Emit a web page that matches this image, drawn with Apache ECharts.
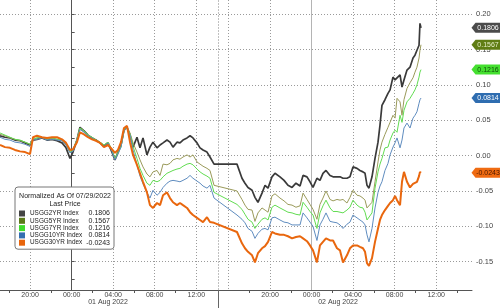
<!DOCTYPE html>
<html><head><meta charset="utf-8">
<script src="https://cdn.jsdelivr.net/npm/echarts@6/dist/echarts.min.js"></script>
<style>html,body{margin:0;padding:0;background:#fff}#c{width:500px;height:308px}</style>
</head><body><div id="c"></div>
<script>
// ---------- data ----------
const seriesNames = ['USGG2YR Index','USGG5YR Index','USGG7YR Index','USGG10YR Index','USGG30YR Index'];
const lastPrices = [0.1806, 0.1567, 0.1216, 0.0814, -0.0243];
const legendTitle = ['Normalized As Of 07/29/2022', 'Last Price'];
// hours relative to 01 Aug 2022 00:00
const times = [
-6.90,-6.42,-5.94,-5.46,-4.97,-4.49,-4.01,-3.72,-3.34,-2.86,
-2.37,-1.89,-1.41,-0.93,-0.54,-0.16,0.13,0.51,0.80,1.19,
1.57,1.96,2.34,2.73,3.11,3.50,3.88,4.17,4.46,4.75,
5.04,5.33,5.62,5.91,6.29,6.58,6.87,7.25,7.54,7.83,
8.22,8.51,8.80,9.18,9.47,9.76,10.14,10.43,10.72,11.11,
11.40,11.68,12.07,12.36,12.65,13.03,13.32,13.71,16.82,17.30,
17.59,17.88,18.27,18.55,18.84,19.23,19.52,19.81,20.19,20.48,
20.96,21.35,21.73,22.12,22.50,22.89,23.18,23.56,23.85,24.14,
24.52,24.81,25.10,25.39,25.78,26.07,26.45,26.74,27.03,27.41,
27.70,27.99,28.38,28.66,28.95,29.15,29.34,29.53,29.82,30.11,
30.40,30.59,30.78,31.07,31.36,31.56,31.84,32.04,32.23,32.52,
32.71,32.90,33.19,33.48,33.77,33.96,34.15,34.35,34.44,34.54];
const usgg2yr = [
0.028,0.026,0.025,0.022,0.021,0.018,0.015,0.022,0.023,0.025,
0.022,0.023,0.021,0.018,0.011,-0.004,0.005,0.022,0.040,0.035,
0.029,0.025,0.022,0.018,0.013,0.018,0.005,-0.006,0.005,0.015,
0.036,0.040,0.029,0.012,0.026,0.011,0.025,0.001,0.012,0.019,
0.011,0.015,0.018,0.022,0.019,0.012,0.019,0.018,0.022,0.025,
0.028,0.025,0.018,0.011,0.008,0.005,-0.002,-0.012,-0.012,-0.032,
-0.039,-0.045,-0.049,-0.059,-0.066,-0.053,-0.042,-0.046,-0.030,-0.025,
-0.030,-0.035,-0.042,-0.045,-0.039,-0.043,-0.028,-0.030,-0.037,-0.045,
-0.032,-0.035,-0.025,-0.021,-0.028,-0.030,-0.030,-0.030,-0.032,-0.032,
-0.030,-0.016,-0.018,-0.021,-0.023,-0.025,-0.042,-0.046,-0.030,-0.004,
0.019,0.043,0.071,0.079,0.088,0.093,0.111,0.107,0.110,0.114,
0.097,0.107,0.121,0.125,0.138,0.142,0.149,0.156,0.187,0.1806];
const usgg5yr = [
0.030,0.028,0.025,0.023,0.021,0.019,0.016,0.023,0.025,0.026,
0.023,0.025,0.023,0.022,0.015,0.004,0.008,0.023,0.039,0.035,
0.029,0.026,0.022,0.019,0.015,0.019,0.008,-0.004,0.005,0.013,
0.036,0.040,0.032,0.018,0.005,-0.006,-0.016,-0.026,-0.030,-0.023,
-0.021,-0.028,-0.012,-0.013,-0.011,-0.006,-0.004,-0.005,-0.002,0.001,
-0.002,0.001,-0.009,-0.012,-0.015,-0.018,-0.021,-0.042,-0.050,-0.062,
-0.070,-0.076,-0.077,-0.093,-0.081,-0.074,-0.077,-0.080,-0.057,-0.054,
-0.060,-0.064,-0.069,-0.070,-0.073,-0.071,-0.053,-0.062,-0.069,-0.076,
-0.090,-0.069,-0.060,-0.050,-0.062,-0.064,-0.062,-0.063,-0.062,-0.067,
-0.059,-0.049,-0.056,-0.057,-0.060,-0.063,-0.074,-0.074,-0.066,-0.037,
-0.009,0.008,0.019,0.030,0.040,0.047,0.057,0.053,0.081,0.076,
0.057,0.079,0.095,0.103,0.110,0.118,0.125,0.138,0.149,0.1567];
const usgg7yr = [
0.032,0.029,0.026,0.023,0.022,0.019,0.016,0.023,0.025,0.026,
0.023,0.025,0.023,0.022,0.016,0.005,0.008,0.023,0.039,0.035,
0.029,0.026,0.022,0.019,0.015,0.019,0.008,-0.004,0.004,0.012,
0.035,0.040,0.030,0.013,-0.004,-0.018,-0.028,-0.039,-0.042,-0.035,
-0.037,-0.035,-0.030,-0.025,-0.023,-0.021,-0.019,-0.018,-0.015,-0.012,
-0.011,-0.013,-0.019,-0.023,-0.026,-0.029,-0.032,-0.052,-0.069,-0.076,
-0.083,-0.090,-0.094,-0.103,-0.097,-0.090,-0.088,-0.091,-0.073,-0.070,
-0.074,-0.077,-0.080,-0.081,-0.083,-0.084,-0.066,-0.073,-0.079,-0.084,
-0.103,-0.081,-0.071,-0.063,-0.074,-0.079,-0.079,-0.080,-0.081,-0.077,
-0.073,-0.063,-0.070,-0.073,-0.074,-0.080,-0.091,-0.090,-0.081,-0.046,
-0.023,-0.012,-0.004,0.011,0.012,0.022,0.032,0.036,0.033,0.057,
0.047,0.064,0.076,0.081,0.088,0.093,0.100,0.111,0.118,0.1216];
const usgg10yr = [
0.026,0.023,0.022,0.019,0.018,0.016,0.013,0.022,0.023,0.025,
0.022,0.023,0.022,0.021,0.015,0.004,0.006,0.022,0.037,0.033,
0.028,0.025,0.021,0.018,0.013,0.018,0.006,-0.006,0.002,0.012,
0.035,0.039,0.029,0.008,-0.013,-0.029,-0.040,-0.052,-0.060,-0.049,
-0.056,-0.052,-0.045,-0.039,-0.036,-0.035,-0.036,-0.037,-0.035,-0.032,
-0.028,-0.032,-0.036,-0.039,-0.043,-0.046,-0.042,-0.060,-0.084,-0.090,
-0.095,-0.103,-0.107,-0.117,-0.110,-0.104,-0.103,-0.105,-0.088,-0.087,
-0.091,-0.094,-0.095,-0.098,-0.098,-0.098,-0.081,-0.088,-0.094,-0.100,
-0.120,-0.098,-0.090,-0.081,-0.093,-0.094,-0.095,-0.098,-0.103,-0.097,
-0.094,-0.084,-0.088,-0.091,-0.094,-0.098,-0.112,-0.122,-0.103,-0.074,
-0.052,-0.043,-0.037,-0.021,-0.011,0.001,0.012,0.018,0.025,0.011,
0.022,0.039,0.046,0.039,0.053,0.057,0.062,0.074,0.079,0.0814];
const usgg30yr = [
0.015,0.012,0.011,0.008,0.006,0.005,0.002,0.026,0.028,0.026,
0.025,0.026,0.026,0.023,0.018,0.008,0.009,0.019,0.033,0.030,
0.026,0.023,0.021,0.018,0.012,0.015,0.009,0.004,0.008,0.019,
0.039,0.042,0.019,0.001,-0.013,-0.025,-0.037,-0.052,-0.070,-0.074,
-0.067,-0.070,-0.056,-0.052,-0.060,-0.066,-0.070,-0.067,-0.070,-0.074,
-0.080,-0.084,-0.088,-0.091,-0.094,-0.087,-0.094,-0.095,-0.108,-0.124,
-0.131,-0.136,-0.141,-0.151,-0.138,-0.131,-0.128,-0.122,-0.108,-0.110,
-0.112,-0.112,-0.114,-0.117,-0.115,-0.114,-0.117,-0.121,-0.127,-0.134,
-0.151,-0.127,-0.122,-0.117,-0.120,-0.120,-0.131,-0.134,-0.151,-0.141,
-0.131,-0.127,-0.127,-0.129,-0.131,-0.136,-0.152,-0.156,-0.145,-0.122,
-0.103,-0.091,-0.084,-0.077,-0.071,-0.067,-0.063,-0.057,-0.063,-0.070,
-0.037,-0.023,-0.037,-0.045,-0.040,-0.039,-0.037,-0.029,-0.023,-0.0243];
const yLabelValues = [-0.15,-0.10,-0.05,0.00,0.05,0.10,0.15,0.20];
const yTickValues = [-0.175,-0.15,-0.125,-0.10,-0.075,-0.05,-0.025,0,0.025,0.05,0.075,0.10,0.125,0.15,0.175,0.20];
const xLabelTimes = [-4,0,4,8,12,20,24,28,32,36];
const xLabelTexts = ['20:00','00:00','04:00','08:00','12:00','20:00','00:00','04:00','08:00','12:00'];
const xGridTimes = [-4,4,8,12,16,20,28,32,36];
const xMinorTickTimes = [-6,-2,2,6,10,18,22,26,30,34,38];
const midnightTimes = [0,24];
const dateLabels = ['01 Aug 2022','02 Aug 2022'];
const dateLabelTimes = [3.5, 26.55];
const sessionBreak = 14.1, sessionGap = 0.9;   // hours hidden between sessions
const viewStart = -6.9, viewEnd = 39.45;

// ---------- styles ----------
const FONT = 'Liberation Sans, Arial, sans-serif';
const legendColors = ['#444444','#5b7a1a','#3fdc2c','#336eb0','#e8650c'];
const lineColors = ['#3a3a3a','#9a9a5a','#62dc52','#5f8cbf','#e9670e'];
const lineWidths = [1.7,1,1,1,2];
const tagBg = ['#4b4b4b','#5f7d14','#45e030','#2f6db0','#ef6b12'];
const tagFg = ['#ffffff','#e6efcc','#0d4d08','#ffffff','#4a1800'];
const GRID_DOT = {color:'#9a9a9a', type:[1,2], width:1};

const toAxis = t => (t > sessionBreak + 0.4 ? t - sessionGap : t);
const allSeries = [usgg2yr, usgg5yr, usgg7yr, usgg10yr, usgg30yr];

const chart = echarts.init(document.getElementById('c'), null, {renderer:'canvas'});
const xMin = toAxis(viewStart), xMax = toAxis(viewEnd);
const commonX = {type:'value', min:xMin, max:xMax, position:'bottom', gridIndex:0};
const labelPos = xLabelTimes.map(toAxis);
const nearestIdx = (arr, v) => { let bi = 0; arr.forEach((p,i)=>{ if (Math.abs(p-v) < Math.abs(arr[bi]-v)) bi = i; }); return bi; };

const option = {
  animation:false,
  backgroundColor:'#ffffff',
  textStyle:{fontFamily:FONT},
  grid:{left:0, right:28, top:0, bottom:18, containLabel:false},
  xAxis:[
    // dotted vertical grid
    Object.assign({}, commonX, {
      axisLine:{show:false}, axisLabel:{show:false},
      axisTick:{show:true, length:0, customValues:xGridTimes.map(toAxis), lineStyle:{color:'rgba(0,0,0,0)'}},
      splitLine:{show:true, lineStyle:GRID_DOT}
    }),
    // solid midnight lines
    Object.assign({}, commonX, {
      axisLine:{show:false}, axisLabel:{show:false},
      axisTick:{show:true, length:0, customValues:midnightTimes.map(toAxis), lineStyle:{color:'rgba(0,0,0,0)'}},
      splitLine:{show:true, lineStyle:{color:'#b4b4b4', type:'solid', width:1}}
    }),
    // session break
    Object.assign({}, commonX, {
      axisLine:{show:false}, axisLabel:{show:false},
      axisTick:{show:true, customValues:[sessionBreak], length:18, lineStyle:{color:'#666'}},
      splitLine:{show:true, lineStyle:{color:'#c0c0c0', type:[2,1], width:1}}
    }),
    // minor ticks
    Object.assign({}, commonX, {
      axisLine:{show:false}, axisLabel:{show:false}, splitLine:{show:false},
      axisTick:{show:true, customValues:xMinorTickTimes.map(toAxis), length:3, lineStyle:{color:'#555'}}
    }),
    // main axis with time labels
    Object.assign({}, commonX, {
      axisLine:{show:true, lineStyle:{color:'#555', width:1}},
      axisTick:{show:false}, splitLine:{show:false},
      axisLabel:{show:true, customValues:labelPos, margin:2, fontSize:7, color:'#444', fontFamily:FONT,
        formatter:v=>xLabelTexts[nearestIdx(labelPos, v)]}
    }),
    // date labels
    Object.assign({}, commonX, {
      axisLine:{show:false}, axisTick:{show:false}, splitLine:{show:false},
      axisLabel:{show:true, customValues:dateLabelTimes.map(toAxis), margin:9, fontSize:7, color:'#444', fontFamily:FONT,
        formatter:v=>dateLabels[nearestIdx(dateLabelTimes.map(toAxis), v)]}
    })
  ],
  yAxis:[
    {type:'value', min:-0.19, max:0.22, position:'right',
      axisLine:{show:true, lineStyle:{color:'#555'}},
      axisTick:{show:true, length:0, customValues:yLabelValues, lineStyle:{color:'rgba(0,0,0,0)'}},
      splitLine:{show:true, lineStyle:GRID_DOT},
      axisLabel:{show:true, customValues:yLabelValues, margin:4, fontSize:7.5, color:'#444', fontFamily:FONT,
        formatter:v=>v.toFixed(2)}
    },
    {type:'value', min:-0.19, max:0.22, position:'right',
      axisLine:{show:false}, axisLabel:{show:false}, splitLine:{show:false},
      axisTick:{show:true, customValues:yTickValues, length:3, lineStyle:{color:'#555'}}
    }
  ],
  legend:{
    show:true, orient:'vertical', left:15, top:187,
    padding:[23,4,3,4], itemGap:0.3, itemWidth:6, itemHeight:6, icon:'rect',
    backgroundColor:'#ffffff', borderColor:'#777', borderWidth:1, borderRadius:3,
    data:seriesNames,
    formatter:name=>{const i=seriesNames.indexOf(name);return '{n|'+name+'}{v|'+lastPrices[i].toFixed(4)+'}';},
    textStyle:{fontSize:7, color:'#222', fontFamily:FONT,
      rich:{n:{width:53, fontSize:6.4, lineHeight:8.3, color:'#222', fontFamily:FONT},
            v:{width:27, align:'right', fontSize:7, lineHeight:8.3, color:'#222', fontFamily:FONT}}}
  },
  series: seriesNames.map((nm,i)=>({
    name:nm, type:'line', xAxisIndex:4, yAxisIndex:0,
    showSymbol:false, symbol:'none', clip:true,
    itemStyle:{color:legendColors[i]},
    lineStyle:{color:lineColors[i], width:lineWidths[i]},
    data: times.map((t,k)=>[toAxis(t), allSeries[i][k]])
  }))
};
chart.setOption(option);

// title inside legend box + price tags on the right axis
const g = [];
const legendCenterX = 65;
g.push({type:'text', z:100, style:{text:legendTitle[0], x:legendCenterX, y:196, textAlign:'center', textVerticalAlign:'middle', font:'7px '+FONT, fill:'#222'}});
g.push({type:'text', z:100, style:{text:legendTitle[1], x:legendCenterX, y:204.5, textAlign:'center', textVerticalAlign:'middle', font:'7px '+FONT, fill:'#222'}});
const axisX = chart.convertToPixel({xAxisIndex:4}, xMax);
lastPrices.forEach((p,i)=>{
  const y = chart.convertToPixel({yAxisIndex:0}, p);
  const x0 = axisX - 0.5;
  g.push({type:'polygon', z:100, shape:{points:[[x0,y],[x0+4,y-5],[500,y-5],[500,y+5],[x0+4,y+5]]}, style:{fill:tagBg[i]}});
  g.push({type:'text', z:101, style:{text:p.toFixed(4), x:x0+16.5, y:y+0.5, textAlign:'center', textVerticalAlign:'middle', font:'7px '+FONT, fill:tagFg[i]}});
});
chart.setOption({graphic:g});
</script>
</body></html>
